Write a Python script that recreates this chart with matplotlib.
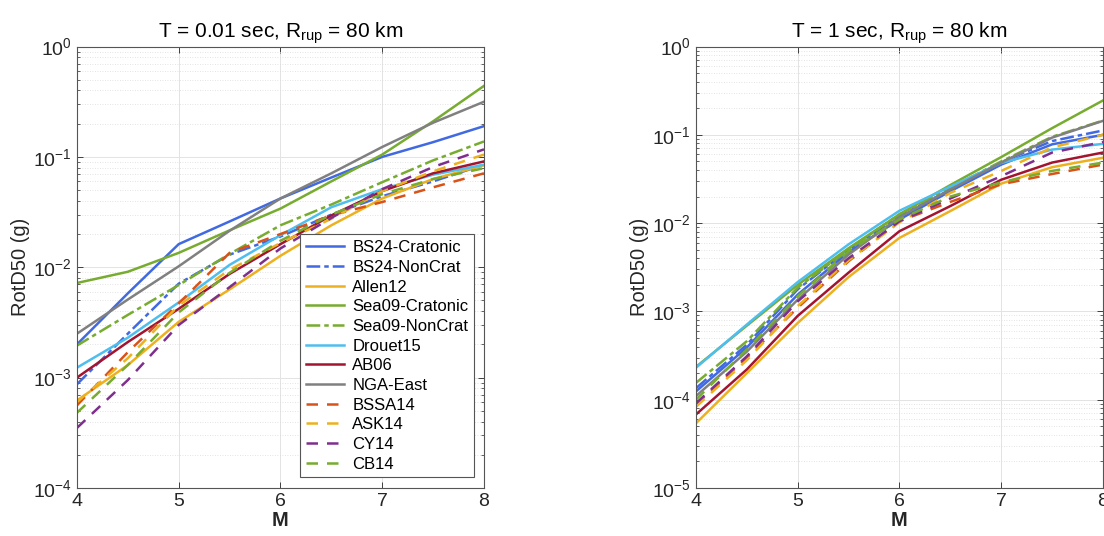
"""RotD50 vs magnitude for several GMMs, two periods at Rrup = 80 km."""
import matplotlib
matplotlib.use('Agg')
import matplotlib.pyplot as plt
from matplotlib.ticker import LogLocator, NullLocator, NullFormatter

plt.rcParams['font.family'] = ['Liberation Sans', 'DejaVu Sans']
plt.rcParams['mathtext.fontset'] = 'custom'
plt.rcParams['mathtext.rm'] = 'Liberation Sans'
plt.rcParams['mathtext.it'] = 'Liberation Sans:italic'
plt.rcParams['mathtext.bf'] = 'Liberation Sans:bold'

# ---- data ----
M = [4.0, 4.5, 5.0, 5.5, 6.0, 6.5, 7.0, 7.5, 8.0]
names = ['BS24-Cratonic', 'BS24-NonCrat', 'Allen12', 'Sea09-Cratonic', 'Sea09-NonCrat',
         'Drouet15', 'AB06', 'NGA-East', 'BSSA14', 'ASK14', 'CY14', 'CB14']

# T = 0.01 s
pga_bs24_crat = [2.0e-3, 5.8e-3, 1.62e-2, 2.6e-2, 4.2e-2, 6.5e-2, 0.100, 0.136, 0.19]
pga_bs24_ncr  = [8.7e-4, 2.5e-3, 7.1e-3, 1.3e-2, 1.9e-2, 3.0e-2, 4.4e-2, 6.0e-2, 0.085]
pga_allen12   = [6.2e-4, 1.3e-3, 3.2e-3, 6.3e-3, 1.27e-2, 2.4e-2, 4.2e-2, 6.3e-2, 0.084]
pga_sea_crat  = [7.2e-3, 9.1e-3, 1.35e-2, 2.16e-2, 3.4e-2, 6.0e-2, 0.105, 0.21, 0.44]
pga_sea_ncr   = [1.95e-3, 3.7e-3, 6.9e-3, 1.32e-2, 2.4e-2, 3.7e-2, 5.9e-2, 9.3e-2, 0.138]
pga_drouet15  = [1.23e-3, 2.3e-3, 4.8e-3, 1.05e-2, 1.95e-2, 3.5e-2, 5.1e-2, 6.9e-2, 0.085]
pga_ab06      = [1.0e-3, 2.1e-3, 4.2e-3, 8.7e-3, 1.62e-2, 2.95e-2, 4.9e-2, 7.1e-2, 0.091]
pga_ngaeast   = [2.5e-3, 5.1e-3, 1.02e-2, 2.14e-2, 4.2e-2, 7.1e-2, 0.123, 0.204, 0.316]
pga_bssa14    = [5.6e-4, 1.7e-3, 4.7e-3, 1.35e-2, 2.0e-2, 2.95e-2, 3.9e-2, 5.3e-2, 0.071]
pga_ask14     = [6.0e-4, 1.5e-3, 4.5e-3, 9.5e-3, 1.66e-2, 2.75e-2, 4.9e-2, 7.4e-2, 0.105]
pga_cy14      = [3.5e-4, 9.5e-4, 3.0e-3, 6.6e-3, 1.48e-2, 2.8e-2, 5.1e-2, 8.1e-2, 0.117]
pga_cb14      = [4.8e-4, 1.3e-3, 3.9e-3, 8.9e-3, 1.74e-2, 3.0e-2, 4.6e-2, 6.3e-2, 0.079]

# T = 1 s
sa1_bs24_crat = [1.24e-4, 3.9e-4, 1.55e-3, 4.7e-3, 1.1e-2, 2.3e-2, 4.6e-2, 7.8e-2, 0.100]
sa1_bs24_ncr  = [1.35e-4, 4.2e-4, 1.78e-3, 5.0e-3, 1.2e-2, 2.4e-2, 4.9e-2, 8.5e-2, 0.112]
sa1_allen12   = [5.4e-5, 2.0e-4, 7.4e-4, 2.45e-3, 6.8e-3, 1.37e-2, 2.8e-2, 4.3e-2, 0.055]
sa1_sea_crat  = [2.35e-4, 6.9e-4, 2.0e-3, 5.2e-3, 1.26e-2, 2.7e-2, 5.6e-2, 0.119, 0.245]
sa1_sea_ncr   = [1.55e-4, 4.6e-4, 1.86e-3, 5.0e-3, 1.26e-2, 2.5e-2, 5.0e-2, 9.5e-2, 0.145]
sa1_drouet15  = [2.3e-4, 7.1e-4, 2.15e-3, 5.75e-3, 1.38e-2, 2.6e-2, 4.8e-2, 6.8e-2, 0.079]
sa1_ab06      = [6.8e-5, 2.2e-4, 8.9e-4, 2.75e-3, 8.1e-3, 1.56e-2, 3.1e-2, 4.85e-2, 0.063]
sa1_ngaeast   = [1.1e-4, 3.5e-4, 1.36e-3, 4.4e-3, 1.17e-2, 2.4e-2, 4.85e-2, 9.3e-2, 0.144]
sa1_bssa14    = [8.8e-5, 3.0e-4, 1.1e-3, 3.7e-3, 1.05e-2, 1.74e-2, 2.75e-2, 3.6e-2, 0.046]
sa1_ask14     = [8.3e-5, 2.8e-4, 1.15e-3, 3.8e-3, 1.02e-2, 2.2e-2, 3.9e-2, 7.2e-2, 0.100]
sa1_cy14      = [9.1e-5, 3.1e-4, 1.3e-3, 4.0e-3, 1.05e-2, 1.9e-2, 3.4e-2, 6.3e-2, 0.083]
sa1_cb14      = [1.0e-4, 3.7e-4, 1.48e-3, 4.8e-3, 1.1e-2, 2.0e-2, 2.9e-2, 3.9e-2, 0.0485]

pga = [pga_bs24_crat, pga_bs24_ncr, pga_allen12, pga_sea_crat, pga_sea_ncr, pga_drouet15,
       pga_ab06, pga_ngaeast, pga_bssa14, pga_ask14, pga_cy14, pga_cb14]
sa1 = [sa1_bs24_crat, sa1_bs24_ncr, sa1_allen12, sa1_sea_crat, sa1_sea_ncr, sa1_drouet15,
       sa1_ab06, sa1_ngaeast, sa1_bssa14, sa1_ask14, sa1_cy14, sa1_cb14]

# ---- styles ----
BLUE, ORNG, GRN, CYAN = '#4169E1', '#EDB120', '#77AC30', '#4DBEEE'
RED, GRAY, BSSA, PURP = '#A2142F', '#808080', '#D95319', '#7E2F8E'
DD = (0, (5.5, 1.6, 1.8, 1.6))   # dash-dot
DA = (0, (4.6, 3.6))             # dashed
colors = [BLUE, BLUE, ORNG, GRN, GRN, CYAN, RED, GRAY, BSSA, ORNG, PURP, GRN]
styles = ['-', DD, '-', '-', DD, '-', '-', '-', DA, DA, DA, DA]

fig = plt.figure(figsize=(11.04, 5.36), dpi=100)
ax1 = fig.add_axes([0.0697, 0.0896, 0.3687, 0.8236])
ax2 = fig.add_axes([0.6304, 0.0896, 0.3687, 0.8236])

EDGE = '#262626'
for ax, data, ylo, title in [(ax1, pga, 1e-4, r'T = 0.01 sec, R$_{\mathrm{rup}}$ = 80 km'),
                             (ax2, sa1, 1e-5, r'T = 1 sec, R$_{\mathrm{rup}}$ = 80 km')]:
    for nm, y, c, s in zip(names, data, colors, styles):
        ax.plot(M, y, color=c, linestyle=s, linewidth=1.8, label=nm)
    ax.set_yscale('log')
    ax.set_xlim(4, 8)
    ax.set_ylim(ylo, 1)
    ax.set_xticks([4, 5, 6, 7, 8])
    ax.xaxis.set_minor_locator(NullLocator())
    ax.yaxis.set_major_locator(LogLocator(base=10, numticks=10))
    ax.yaxis.set_minor_locator(LogLocator(base=10, subs=range(2, 10), numticks=10))
    ax.yaxis.set_minor_formatter(NullFormatter())
    ax.grid(True, which='major', color='#e3e3e3', linewidth=0.7, linestyle='-')
    ax.grid(True, which='minor', axis='y', color='#dadada', linewidth=0.6, linestyle=(0, (1, 2)))
    ax.set_axisbelow(True)
    ax.tick_params(which='both', direction='in', top=True, right=True, colors=EDGE,
                   labelsize=14)
    ax.tick_params(which='major', length=4, width=0.6)
    ax.tick_params(which='minor', length=2.2, width=0.5)
    for sp in ax.spines.values():
        sp.set_color('#555555')
        sp.set_linewidth(0.8)
    ax.set_title(title, fontsize=15, pad=6, color='black')
    ax.set_xlabel('M', fontsize=14.5, fontweight='bold', labelpad=1, color=EDGE)
    ax.set_ylabel('RotD50 (g)', fontsize=14.5, labelpad=2, color=EDGE)

leg = ax1.legend(loc='lower right', bbox_to_anchor=(0.976, 0.024), borderaxespad=0,
                 fontsize=12, labelspacing=0.28, handlelength=2.3, handletextpad=0.5,
                 borderpad=0.35, fancybox=False, framealpha=1)
leg.get_frame().set_edgecolor('#555555')
leg.get_frame().set_linewidth(0.8)

fig.savefig('out.png', dpi=100)
